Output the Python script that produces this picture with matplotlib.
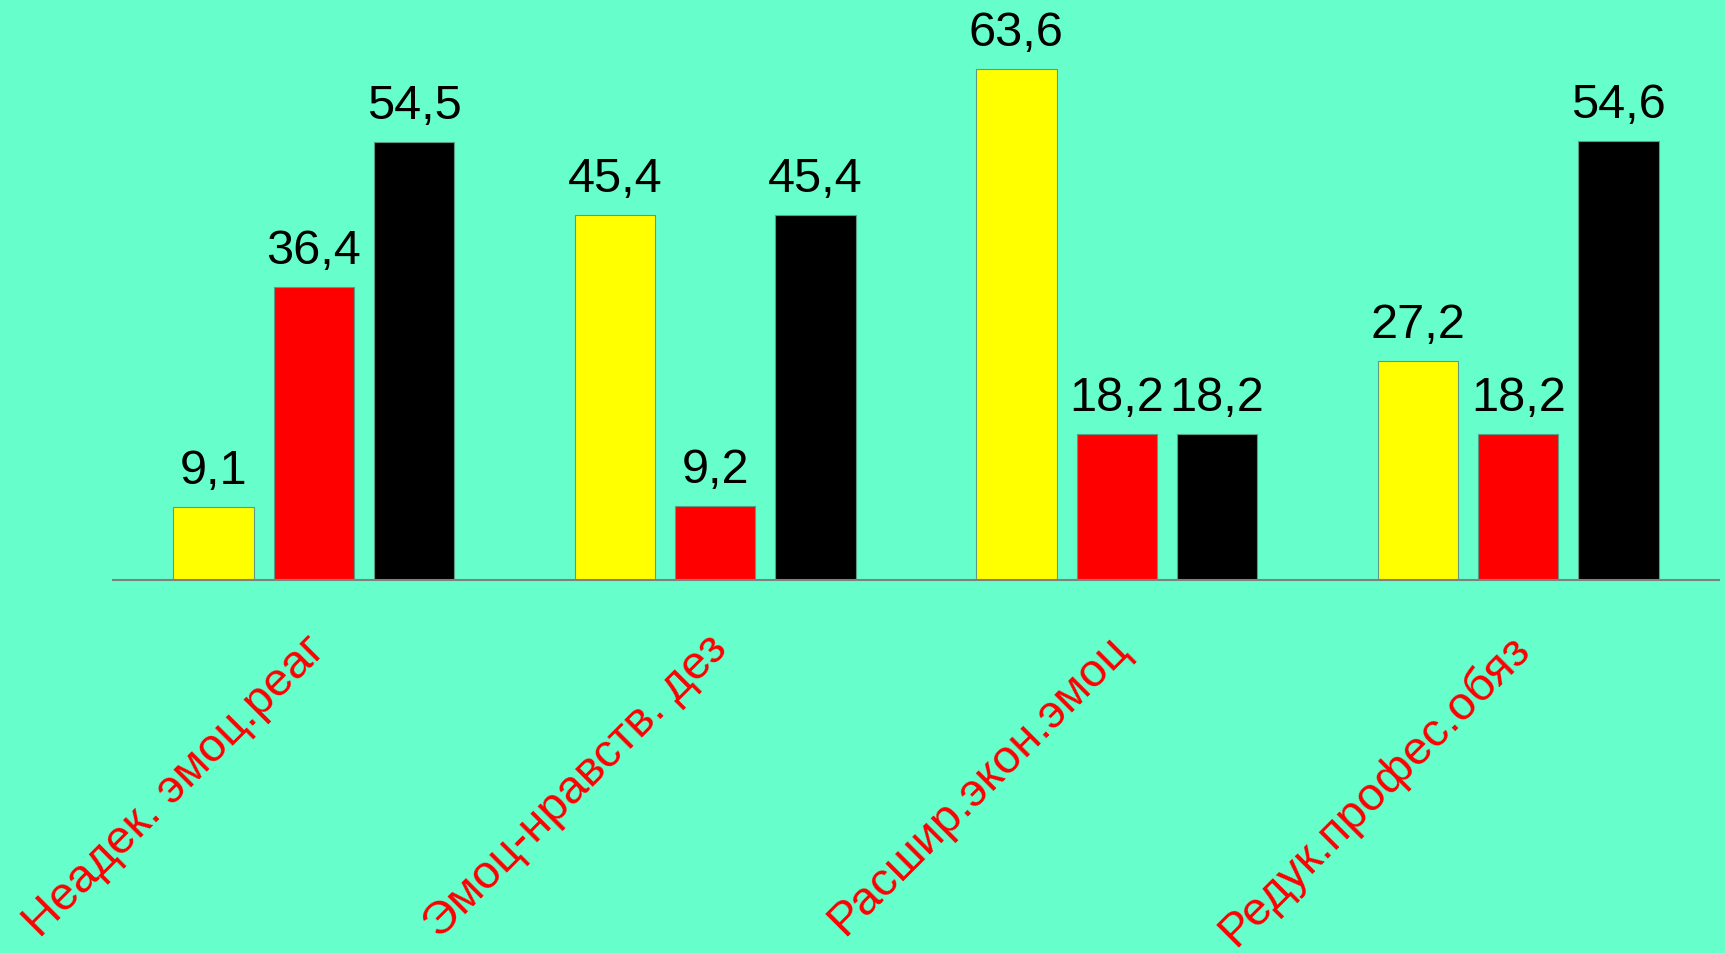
import numpy as np
from matplotlib import pyplot as plt
from matplotlib import transforms

categories = ["Неадек. эмоц.реаг", "Эмоц-нравств. дез", "Расшир.экон.эмоц", "Редук.профес.обяз"]
yellow_vals = [9.1, 45.4, 63.6, 27.2]
red_vals = [36.4, 9.2, 18.2, 18.2]
black_vals = [54.5, 45.4, 18.2, 54.6]

bg = "#66ffcc"
plt.rcParams['font.family'] = ['Liberation Sans', 'DejaVu Sans']

fig = plt.figure(figsize=(17.25, 9.54), dpi=100, facecolor=bg)
ax = fig.add_axes([113 / 1725, 1 - 581 / 954, (1719 - 113) / 1725, 581 / 954])
ax.set_facecolor(bg)

x = np.arange(len(categories))
series = [(yellow_vals, "#ffff00", -0.25), (red_vals, "#ff0000", 0.0), (black_vals, "#000000", 0.25)]
for vals, color, off in series:
    bars = ax.bar(x + off, vals, width=0.2, color=color, edgecolor="#5c9c84", linewidth=0.8)
    for b, v in zip(bars, vals):
        ax.annotate(f"{v:.1f}".replace(".", ","), (b.get_x() + b.get_width() / 2, v),
                    xytext=(0, 10), textcoords="offset points", ha="center", va="bottom",
                    fontsize=35, color="black")

ax.set_xlim(-0.5, 3.5)
ax.set_ylim(0, 581 / 8.04)
for s in ["top", "right", "left"]:
    ax.spines[s].set_visible(False)
ax.spines["bottom"].set_color("#808080")
ax.spines["bottom"].set_linewidth(1.5)
ax.set_xticks([])
ax.set_yticks([])

trans = transforms.blended_transform_factory(ax.transData, ax.transAxes)
for i, name in enumerate(categories):
    ax.annotate(name, (i, 0), xycoords=trans, xytext=(15, -33), textcoords="offset points",
                ha="right", va="top", rotation=45, fontsize=34, color="#ff0000",
                annotation_clip=False)

fig.savefig("out.png", dpi=100, facecolor=bg)
